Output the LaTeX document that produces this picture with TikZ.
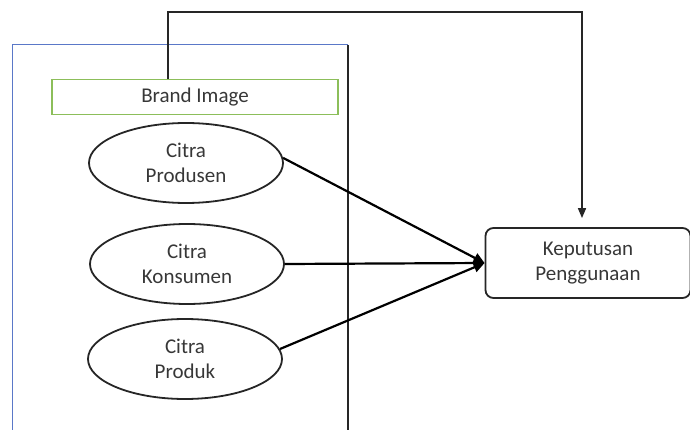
\documentclass[tikz,border=0pt]{standalone}
\usepackage{fontspec}
\setmainfont{Carlito}
\usetikzlibrary{shapes.geometric,arrows.meta}
\definecolor{txt}{RGB}{55,55,55}
\definecolor{frameblue}{RGB}{90,120,200}
\definecolor{boxgreen}{RGB}{140,190,90}
\tikzset{
  lbl/.style={font=\fontsize{21}{25}\selectfont, text=txt, align=center},
  oval/.style={lbl, ellipse, draw=black!85, line width=1.8pt, minimum width=194pt, minimum height=80pt, inner sep=0pt},
  bibox/.style={lbl, draw=boxgreen, line width=1.2pt, minimum width=286pt, minimum height=35pt, inner sep=0pt},
  outbox/.style={lbl, draw=black!85, line width=1.8pt, rounded corners=8pt, minimum width=205pt, minimum height=70pt, inner sep=0pt},
  conn/.style={draw=black, line width=2.2pt, -{Triangle[length=11pt,width=10pt]}},
  fback/.style={draw=black!85, line width=1.6pt, -{Triangle[length=10pt,width=8pt]}}
}
\begin{document}
\begin{tikzpicture}[x=1pt,y=-1pt]
\useasboundingbox (0,0) rectangle (690,430);
% outer frame
\draw[frameblue, line width=1pt] (12,440) -- (12,45) -- (348,45);
\draw[black!85, line width=1.4pt] (348,45) -- (348,440);
% nodes
\node[bibox] (bi) at (195,97) {Brand Image};
\node[oval] (e1) at (186,163) {Citra\\Produsen};
\node[oval] (e2) at (187,264) {Citra\\Konsumen};
\node[oval] (e3) at (185,359) {Citra\\Produk};
\node[outbox] (k) at (588,263) {Keputusan\\Penggunaan};
% connectors
\coordinate (fb) at (168,79);
\coordinate (tr) at (582,12);
\draw[fback, shorten >=9pt] (fb) |- (tr) -- (tr |- k.north);
\draw[conn] (e1.3) -- (k.west);
\draw[conn] (e2.east) -- (k.west);
\draw[conn] (e3.6) -- (k.west);
\end{tikzpicture}
\end{document}
